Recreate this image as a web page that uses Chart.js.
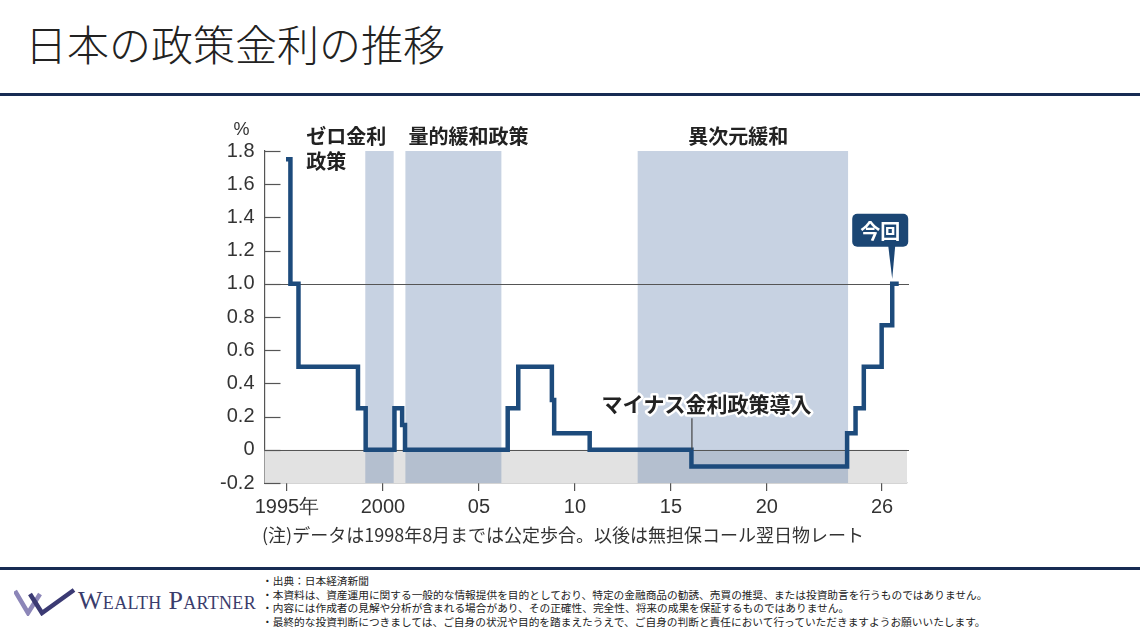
<!DOCTYPE html>
<html lang="ja">
<head>
<meta charset="utf-8">
<script src="https://cdn.jsdelivr.net/npm/chart.js@4.4.1/dist/chart.umd.min.js"></script>
<style>
html, body { margin: 0; padding: 0; background: #fff; width: 1140px; height: 641px; overflow: hidden; font-family: "Noto Sans CJK JP", sans-serif; }
#title { position: absolute; left: 25px; top: 12px; font-size: 42px; font-weight: 300; color: #222; white-space: nowrap; }
.rule { position: absolute; left: 0; width: 1140px; height: 3px; background: #172b53; }
#wrap { position: absolute; left: 0; top: 100px; width: 1140px; height: 460px; }
#note { position: absolute; left: 262px; top: 521px; font-size: 18px; color: #333; white-space: nowrap; }
#logo { position: absolute; left: 14px; top: 588px; }
#brand { position: absolute; left: 78px; top: 586px; font-family: "Liberation Serif", serif; font-variant: small-caps; font-size: 26px; color: #3a3c6c; white-space: nowrap; letter-spacing: 0.3px; }
#foot { position: absolute; left: 262px; top: 574px; font-size: 10.7px; line-height: 13.6px; color: #222; white-space: nowrap; }
</style>
</head>
<body>
<div id="title">日本の政策金利の推移</div>
<div class="rule" style="top:93px"></div>
<div id="wrap"><canvas id="rateChart" width="1140" height="460"></canvas></div>
<div id="note">(注)データは1998年8月までは公定歩合。以後は無担保コール翌日物レート</div>
<div class="rule" style="top:567px"></div>
<svg id="logo" width="62" height="28" viewBox="0 0 62 28">
  <polyline points="1,3 14,25 26,6" fill="none" stroke="#8c86b8" stroke-width="4.5"/>
  <polyline points="16,6 28,25 60,2" fill="none" stroke="#3b3a73" stroke-width="4.5"/>
</svg>
<div id="brand">Wealth Partner</div>
<div id="foot">
・出典：日本経済新聞<br>
・本資料は、資産運用に関する一般的な情報提供を目的としており、特定の金融商品の勧誘、売買の推奨、または投資助言を行うものではありません。<br>
・内容には作成者の見解や分析が含まれる場合があり、その正確性、完全性、将来の成果を保証するものではありません。<br>
・最終的な投資判断につきましては、ご自身の状況や目的を踏まえたうえで、ご自身の判断と責任において行っていただきますようお願いいたします。
</div>

<script>
// policy rate: year the level starts, and the level (%)
const rateYears = [1994.95, 1995.18, 1995.6, 1998.7, 1999.1, 2000.6, 2001.0, 2001.15, 2006.5, 2007.05,
                   2008.8, 2008.92, 2010.77, 2016.07, 2024.18, 2024.62, 2025.05, 2025.98, 2026.53, 2026.87];
const rateValues = [1.75, 1.0, 0.5, 0.25, 0, 0.25, 0.15, 0, 0.25, 0.5,
                    0.3, 0.1, 0, -0.1, 0.1, 0.25, 0.5, 0.75, 1.0, 1.0];

const yearTicks = [1995, 2000, 2005, 2010, 2015, 2020, 2026];
const yearLabels = ['1995年', '2000', '05', '10', '15', '20', '26'];
const rateTicks = [-0.2, 0, 0.2, 0.4, 0.6, 0.8, 1.0, 1.2, 1.4, 1.6, 1.8];

// easing periods
const policyNames = [['ゼロ金利', '政策'], ['量的緩和政策'], ['異次元緩和']];
const policyStart = [1999.08, 2001.17, 2013.27];
const policyEnd = [2000.56, 2006.17, 2024.23];

const negativeNote = 'マイナス金利政策導入';
const latestNote = '今回';

const numFont = '"Liberation Sans", sans-serif';
const jpFont = '"Noto Sans CJK JP", sans-serif';
const labelX = [1996.0, 2001.33, 2015.9];

const decor = {
    id: 'decor',
    beforeDatasetsDraw(chart) {
        const {ctx, chartArea: a, scales: {x, y}} = chart;
        ctx.save();
        const y0 = y.getPixelForValue(0);
        ctx.fillStyle = '#e2e2e2';
        ctx.fillRect(a.left, y0, a.right - a.left, a.bottom - y0);

        ctx.fillStyle = 'rgba(100,130,175,0.36)';
        policyStart.forEach((s, i) => {
            const x1 = x.getPixelForValue(s);
            const x2 = x.getPixelForValue(policyEnd[i]);
            ctx.fillRect(x1, a.top, x2 - x1, a.bottom - a.top);
        });

        ctx.strokeStyle = '#555';
        ctx.lineWidth = 1.2;
        [0, 1].forEach(v => {
            const py = Math.round(y.getPixelForValue(v)) + 0.5;
            ctx.beginPath();
            ctx.moveTo(a.left, py);
            ctx.lineTo(a.right + 2, py);
            ctx.stroke();
        });

        // tick marks inside the plot
        y.ticks.forEach(t => {
            const py = Math.round(y.getPixelForValue(t.value)) + 0.5;
            ctx.beginPath();
            ctx.moveTo(a.left, py);
            ctx.lineTo(a.left + 16, py);
            ctx.stroke();
        });
        ctx.restore();
    },
    afterDatasetsDraw(chart) {
        const {ctx, chartArea: a, scales: {x, y}} = chart;
        ctx.save();
        ctx.fillStyle = '#333';
        ctx.font = '18px ' + numFont;
        ctx.textAlign = 'left';
        ctx.textBaseline = 'alphabetic';
        ctx.fillText('%', a.left - 31, a.top - 16);

        ctx.font = 'bold 20px ' + jpFont;
        ctx.fillStyle = '#222';
        policyNames.forEach((lines, i) => {
            lines.forEach((t, j) => {
                ctx.fillText(t, x.getPixelForValue(labelX[i]), a.top - 7 + j * 25);
            });
        });

        // negative rate note
        const nx = x.getPixelForValue(rateYears[13]);
        ctx.strokeStyle = '#444';
        ctx.lineWidth = 1.2;
        ctx.beginPath();
        ctx.moveTo(nx + 0.5, y.getPixelForValue(0.19));
        ctx.lineTo(nx + 0.5, y.getPixelForValue(0));
        ctx.stroke();
        ctx.textAlign = 'center';
        ctx.font = 'bold 21px ' + jpFont;
        ctx.lineJoin = 'round';
        ctx.strokeStyle = '#fff';
        ctx.lineWidth = 5;
        const tx = x.getPixelForValue(2016.85), ty = y.getPixelForValue(0.225);
        ctx.strokeText(negativeNote, tx, ty);
        ctx.fillStyle = '#222';
        ctx.fillText(negativeNote, tx, ty);

        // latest callout
        const px = x.getPixelForValue(rateYears[18]);
        const py = y.getPixelForValue(rateValues[18]) - 5;
        const bw = 56, bh = 33, bx = px - 40, by = py - 32 - bh;
        ctx.fillStyle = '#1b4674';
        ctx.beginPath();
        ctx.roundRect(bx, by, bw, bh, 5);
        ctx.fill();
        ctx.beginPath();
        ctx.moveTo(px - 4, by + bh - 1);
        ctx.lineTo(px + 3, by + bh - 1);
        ctx.lineTo(px, py);
        ctx.closePath();
        ctx.fill();
        ctx.fillStyle = '#fff';
        ctx.font = 'bold 20px ' + jpFont;
        ctx.textBaseline = 'middle';
        ctx.fillText(latestNote, bx + bw / 2, by + bh / 2 + 1);
        ctx.restore();
    }
};

new Chart(document.getElementById('rateChart').getContext('2d'), {
    type: 'line',
    data: {
        datasets: [{
            data: rateYears.map((v, i) => ({x: v, y: rateValues[i]})),
            stepped: 'before',
            borderColor: '#1d4b7c',
            borderWidth: 4.5,
            borderJoinStyle: 'miter',
            pointRadius: 0,
            fill: false
        }]
    },
    options: {
        responsive: false,
        animation: false,
        layout: {padding: {left: 214.5, right: 233, top: 51, bottom: 37}},
        plugins: {legend: {display: false}, tooltip: {enabled: false}},
        scales: {
            x: {
                type: 'linear',
                min: 1993.83,
                max: 2027.3,
                afterBuildTicks: s => { s.ticks = yearTicks.map(v => ({value: v})); },
                afterFit: s => { s.height = 40; },
                grid: {display: true, drawOnChartArea: false, drawTicks: true, tickLength: 8, color: '#555', lineWidth: 1.2},
                border: {display: true, color: '#555', width: 1.2},
                ticks: {
                    autoSkip: false, maxRotation: 0, padding: 4,
                    color: '#333', font: {family: numFont, size: 20},
                    callback: (v, i) => yearLabels[i]
                }
            },
            y: {
                min: -0.2,
                max: 1.8,
                afterBuildTicks: s => { s.ticks = rateTicks.map(v => ({value: v})); },
                afterFit: s => { s.width = 50; },
                grid: {display: false, drawTicks: false},
                border: {display: true, color: '#555', width: 1.2},
                ticks: {
                    padding: 10,
                    color: '#333', font: {family: numFont, size: 20},
                    callback: v => Math.abs(v) < 1e-9 ? '0' : v.toFixed(1)
                }
            }
        }
    },
    plugins: [decor]
});
</script>
</body>
</html>
